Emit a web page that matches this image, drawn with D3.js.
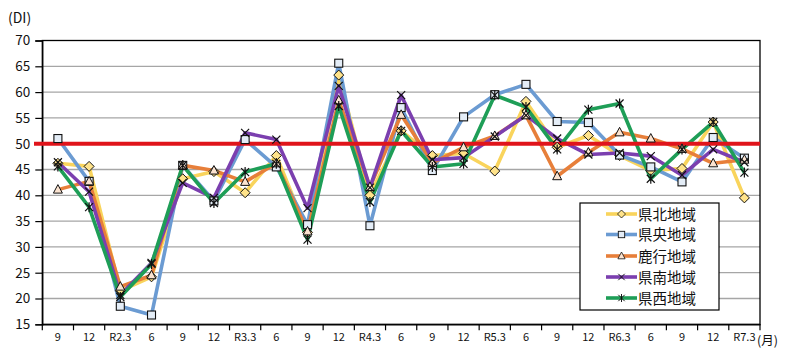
<!DOCTYPE html>
<html><head><meta charset="utf-8">
<script src="https://cdn.jsdelivr.net/npm/d3@7"></script>
<style>body{margin:0;background:#fff}svg{display:block}text{font-family:"Noto Sans CJK JP","DejaVu Sans",sans-serif}</style>
</head><body><svg id="c" width="788" height="355"></svg>
<script>
const categories = ["9","12","R2.3","6","9","12","R3.3","6","9","12","R4.3","6","9","12","R5.3","6","9","12","R6.3","6","9","12","R7.3"];
const seriesNames = ["県北地域","県央地域","鹿行地域","県南地域","県西地域"];
const kenpoku = [46.2,45.6,21.5,24.2,43.2,44.6,40.5,47.7,32.8,63.3,40.0,52.5,47.7,48.1,44.7,58.2,49.3,51.6,47.7,44.8,45.2,54.2,39.5];
const kenou   = [51.0,42.7,18.5,16.8,45.8,38.9,50.8,45.5,34.3,65.6,34.1,57.0,44.8,55.2,59.5,61.5,54.3,54.1,47.8,45.5,42.6,51.2,47.2];
const rokko   = [41.1,42.7,22.3,24.5,45.8,44.8,42.6,46.2,33.0,58.4,41.6,55.6,46.3,49.3,51.5,55.5,43.7,48.3,52.2,51.0,49.0,46.2,46.9];
const kennan  = [46.4,40.7,20.7,26.9,42.4,39.5,52.1,50.8,37.5,61.2,41.5,59.4,46.9,47.3,51.4,55.5,51.0,47.9,48.2,47.6,43.9,48.9,46.4];
const kensei  = [45.6,37.7,20.3,26.7,45.8,38.5,44.5,46.1,31.4,57.3,38.7,52.5,45.5,46.1,59.4,57.1,48.9,56.6,57.8,43.2,48.9,54.2,44.4];
const yTicks = [15,20,25,30,35,40,45,50,55,60,65,70];
const baseline = 50;

const seriesData = [kenpoku, kenou, rokko, kennan, kensei];
const colors = ["#F9D45C","#6B9BD2","#E77F3A","#7B3FAF","#1E9E57"];
const fills = ["#FFE38A","#E4EDF7","#FBE3D0","#ffffff","#ffffff"];
const shapes = ["diamond","square","triangle","x","star"];

const svg = d3.select("#c");
const L=42.3, R=760, T=40.5, B=324.3;
const x = d3.scaleBand().domain(d3.range(categories.length)).range([L,R]);
const y = d3.scaleLinear().domain([15,70]).range([B,T]);

svg.append("g").selectAll("line").data(yTicks.filter(v=>v>15&&v<70)).join("line")
  .attr("x1",L).attr("x2",R).attr("y1",d=>y(d)).attr("y2",d=>y(d))
  .attr("stroke","#A6A6A6").attr("stroke-width",1.3);

svg.append("rect").attr("x",L).attr("y",T).attr("width",R-L).attr("height",B-T)
  .attr("fill","none").attr("stroke","#000").attr("stroke-width",1.3);

const yAxis = d3.axisLeft(y).tickValues(yTicks).tickSize(7).tickPadding(5).tickFormat(d3.format("d"));
const ga = svg.append("g").attr("transform",`translate(${L},0)`).call(yAxis);
ga.select(".domain").attr("stroke","#000").attr("stroke-width",1.3);
ga.selectAll(".tick line").attr("stroke","#000").attr("stroke-width",1.2);
ga.selectAll(".tick text").attr("font-size",13.5).attr("fill","#111");

const xAxis = d3.axisBottom(x).tickSize(0).tickPadding(9).tickFormat(i=>categories[i]);
const gx = svg.append("g").attr("transform",`translate(0,${B})`).call(xAxis);
gx.select(".domain").attr("stroke","#000").attr("stroke-width",1.3);
gx.selectAll(".tick text").attr("font-size",11).attr("fill","#111");
svg.append("g").selectAll("line").data(d3.range(categories.length+1)).join("line")
  .attr("x1",i=>L+i*x.step()).attr("x2",i=>L+i*x.step()).attr("y1",B).attr("y2",B+6)
  .attr("stroke","#000").attr("stroke-width",1.2);

svg.append("text").attr("x",R-3).attr("y",B+21).attr("font-size",12.5).attr("fill","#111").text("(月)");
svg.append("text").attr("x",8).attr("y",23).attr("font-size",14).attr("fill","#111").text("(DI)");

const cx = i=>x(i)+x.bandwidth()/2;
const line = d3.line().x((d,i)=>cx(i)).y(d=>y(d));

seriesData.forEach((s,k)=>{
  svg.append("path").datum(s).attr("d",line).attr("fill","none")
    .attr("stroke",colors[k]).attr("stroke-width",3.6).attr("stroke-linejoin","round");
});

svg.append("line").attr("x1",34).attr("x2",R).attr("y1",y(baseline)).attr("y2",y(baseline))
  .attr("stroke","#E0141B").attr("stroke-width",4);

function marker(g,shape,k){
  const c="#111";
  if(shape==="diamond") g.append("path").attr("d","M0,-5L5,0L0,5L-5,0Z").attr("fill",fills[k]).attr("stroke",c).attr("stroke-width",1);
  else if(shape==="square") g.append("rect").attr("x",-4).attr("y",-4).attr("width",8).attr("height",8).attr("fill",fills[k]).attr("stroke",c).attr("stroke-width",1.1);
  else if(shape==="triangle") g.append("path").attr("d","M0,-5L4.5,3.5L-4.5,3.5Z").attr("fill",fills[k]).attr("stroke",c).attr("stroke-width",1);
  else if(shape==="x") g.append("path").attr("d","M-4,-4L4,4M-4,4L4,-4").attr("stroke",c).attr("stroke-width",1.2);
  else g.append("path").attr("d","M-4,-4L4,4M-4,4L4,-4M0,-5L0,5").attr("stroke",c).attr("stroke-width",1.2);
}
seriesData.forEach((s,k)=>{
  s.forEach((v,i)=>{
    const g = svg.append("g").attr("transform",`translate(${cx(i)},${y(v)})`);
    marker(g,shapes[k],k);
  });
});

const lg = svg.append("g");
lg.append("rect").attr("x",580).attr("y",203).attr("width",139).attr("height",107)
  .attr("fill","#fff").attr("stroke","#000").attr("stroke-width",1.2);
const ly = [214,234.5,256,277,298];
seriesNames.forEach((n,k)=>{
  lg.append("line").attr("x1",606).attr("x2",637).attr("y1",ly[k]).attr("y2",ly[k])
    .attr("stroke",colors[k]).attr("stroke-width",3.6);
  const g = lg.append("g").attr("transform",`translate(621.5,${ly[k]}) scale(0.8)`);
  marker(g,shapes[k],k);
  lg.append("text").attr("x",638).attr("y",ly[k]+5.5).attr("font-size",14.5).attr("fill","#111").text(n);
});
</script></body></html>
